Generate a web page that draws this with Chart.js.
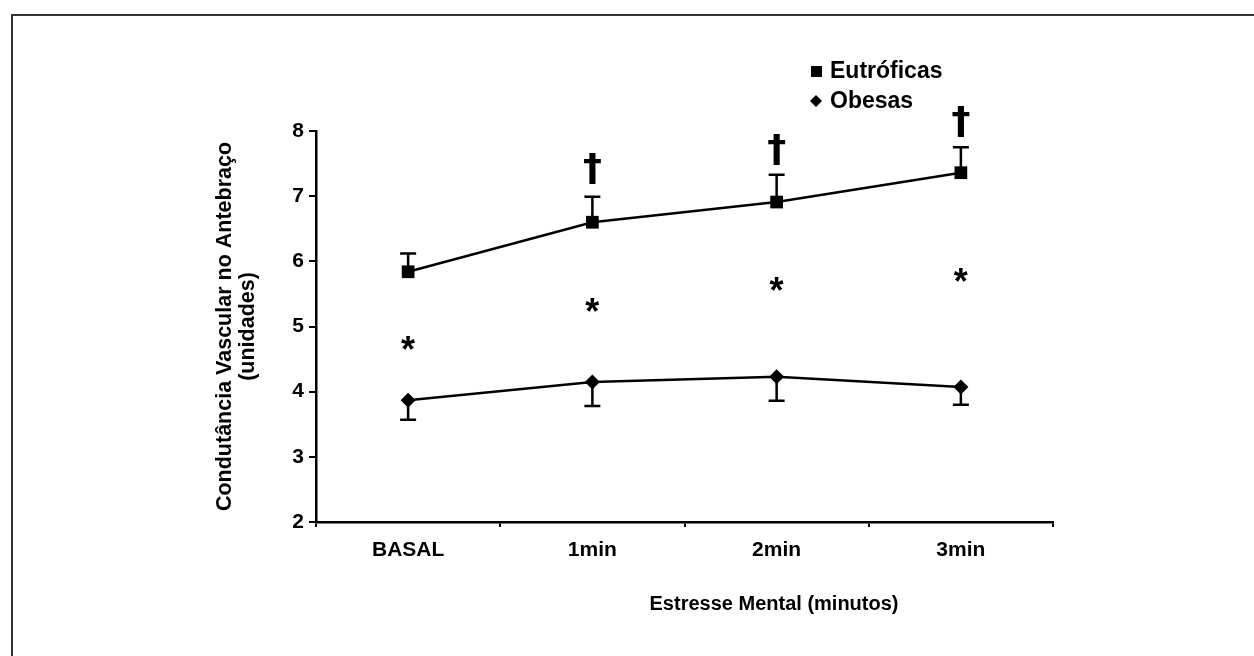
<!DOCTYPE html>
<html>
<head>
<meta charset="utf-8">
<script src="https://cdn.jsdelivr.net/npm/chart.js@4/dist/chart.umd.min.js"></script>
<style>
  html, body { margin: 0; padding: 0; background: #fff; }
  #wrap { position: absolute; left: 0; top: 0; width: 1254px; height: 656px; }
  #frame { position: absolute; left: 11px; top: 14px; width: 1260px; height: 660px;
           border-left: 2px solid #333; border-top: 2px solid #333; }
</style>
</head>
<body>
<div id="wrap">
  <div id="frame"></div>
  <canvas id="chart" width="1254" height="656"></canvas>
</div>
<script>
const categories = ["BASAL", "1min", "2min", "3min"];
const eutroficas = [5.84, 6.60, 6.91, 7.36];
const eutroficasSD = [0.28, 0.39, 0.42, 0.39];
const obesas = [3.87, 4.15, 4.23, 4.07];
const obesasSD = [0.30, 0.37, 0.37, 0.27];
const asteriskY = [4.75, 5.33, 5.65, 5.79];
const daggerY = [null, 7.42, 7.72, 8.15];
const yTicks = [2, 3, 4, 5, 6, 7, 8];

const FONT = "'Liberation Sans', Arial, Helvetica, sans-serif";

function centeredText(ctx, txt, x, y) {
  const m = ctx.measureText(txt);
  const h = m.actualBoundingBoxAscent + m.actualBoundingBoxDescent;
  ctx.textBaseline = "alphabetic";
  ctx.textAlign = "center";
  ctx.fillText(txt, x, y - h / 2 + m.actualBoundingBoxAscent);
}

const extras = {
  id: "extras",
  beforeDatasetsDraw(chart) {
    const ctx = chart.ctx;
    const xs = chart.scales.x, ys = chart.scales.y;
    ctx.save();
    ctx.strokeStyle = "#000";
    ctx.lineWidth = 2.5;
    const cap = 8;
    categories.forEach((c, i) => {
      const x = xs.getPixelForValue(i);
      // Eutróficas: upward bar
      let y0 = ys.getPixelForValue(eutroficas[i]);
      let y1 = ys.getPixelForValue(eutroficas[i] + eutroficasSD[i]);
      ctx.beginPath();
      ctx.moveTo(x, y0); ctx.lineTo(x, y1);
      ctx.moveTo(x - cap, y1); ctx.lineTo(x + cap, y1);
      ctx.stroke();
      // Obesas: downward bar
      y0 = ys.getPixelForValue(obesas[i]);
      y1 = ys.getPixelForValue(obesas[i] - obesasSD[i]);
      ctx.beginPath();
      ctx.moveTo(x, y0); ctx.lineTo(x, y1);
      ctx.moveTo(x - cap, y1); ctx.lineTo(x + cap, y1);
      ctx.stroke();
    });
    ctx.restore();
  },
  afterDraw(chart) {
    const ctx = chart.ctx;
    const xs = chart.scales.x, ys = chart.scales.y;
    ctx.save();
    ctx.fillStyle = "#000";
    // significance marks
    ctx.font = "bold 36px " + FONT;
    asteriskY.forEach((v, i) => {
      if (v !== null) centeredText(ctx, "*", xs.getPixelForValue(i), ys.getPixelForValue(v));
    });
    ctx.font = "bold 38px 'DejaVu Sans', " + FONT;
    daggerY.forEach((v, i) => {
      if (v !== null) centeredText(ctx, "†", xs.getPixelForValue(i), ys.getPixelForValue(v));
    });
    // legend
    ctx.font = "bold 23px " + FONT;
    ctx.textAlign = "left";
    ctx.textBaseline = "middle";
    ctx.fillRect(811, 66, 11, 11);
    ctx.fillText(chart.data.datasets[0].label, 830, 72);
    ctx.beginPath();
    ctx.moveTo(816, 95); ctx.lineTo(822, 101); ctx.lineTo(816, 107); ctx.lineTo(810, 101);
    ctx.closePath(); ctx.fill();
    ctx.fillText(chart.data.datasets[1].label, 830, 102);
    // x axis title
    ctx.font = "bold 20px " + FONT;
    ctx.textAlign = "center";
    ctx.fillText("Estresse Mental (minutos)", 774, 604);
    ctx.restore();
  }
};

new Chart(document.getElementById("chart"), {
  type: "line",
  data: {
    labels: categories,
    datasets: [
      {
        label: "Eutróficas",
        data: eutroficas,
        borderColor: "#000",
        backgroundColor: "#000",
        borderWidth: 2.5,
        pointStyle: "rect",
        pointRadius: 9,
        pointBorderWidth: 0,
        tension: 0
      },
      {
        label: "Obesas",
        data: obesas,
        borderColor: "#000",
        backgroundColor: "#000",
        borderWidth: 2.5,
        pointStyle: "rectRot",
        pointRadius: 7.5,
        pointBorderWidth: 0,
        tension: 0
      }
    ]
  },
  options: {
    responsive: false,
    animation: false,
    layout: { padding: { left: 211, top: 131, right: 201, bottom: 0 } },
    plugins: { legend: { display: false }, tooltip: { enabled: false } },
    scales: {
      x: {
        type: "category",
        offset: true,
        afterFit(scale) { scale.height = 134; },
        border: { display: true, color: "#000", width: 2.5 },
        grid: { display: true, drawOnChartArea: false, tickLength: 5, color: "#000", lineWidth: 2, offset: true },
        ticks: { color: "#000", padding: 11, font: { family: FONT, size: 21, weight: "bold" } }
      },
      y: {
        min: 2,
        max: 8,
        afterFit(scale) { scale.width = 105; },
        afterBuildTicks(scale) { scale.ticks = yTicks.map(v => ({ value: v })); },
        border: { display: true, color: "#000", width: 2.5 },
        grid: { display: true, drawOnChartArea: false, tickLength: 7, color: "#000", lineWidth: 2 },
        ticks: { color: "#000", padding: 5, font: { family: FONT, size: 21, weight: "bold" } },
        title: {
          display: true,
          text: ["Condutância Vascular no Antebraço", "(unidades)"],
          color: "#000",
          padding: { top: 3, bottom: 0 },
          font: { family: FONT, size: 21.5, weight: "bold", lineHeight: 1.05 }
        }
      }
    }
  },
  plugins: [extras]
});
</script>
</body>
</html>
